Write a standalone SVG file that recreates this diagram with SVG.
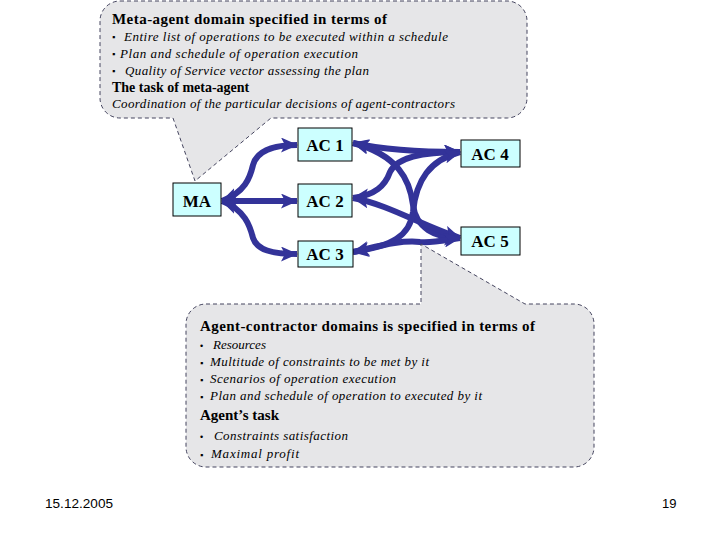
<svg xmlns="http://www.w3.org/2000/svg" width="720" height="540" viewBox="0 0 720 540">
<style>
.bub{fill:#e6e6e8;stroke:#45455f;stroke-width:1;stroke-dasharray:4 3}
.node{fill:#ccffff;stroke:#000;stroke-width:1}
.lbl{font-family:"Liberation Serif","Times New Roman",serif;font-size:17px;font-weight:bold;fill:#000;text-anchor:middle}
.h{font-family:"Liberation Serif","Times New Roman",serif;font-weight:bold;fill:#000}
.it{font-family:"Liberation Serif","Times New Roman",serif;font-style:italic;font-size:13px;fill:#000}
.bl{font-family:"Liberation Sans",Arial,sans-serif;font-size:9px;fill:#000}
.ft{font-family:"Liberation Sans",Arial,sans-serif;font-size:13px;fill:#000}
.c{fill:none;stroke:#333399;stroke-width:6;marker-start:url(#ah);marker-end:url(#ah)}
</style>
<defs>
<marker id="ah" markerUnits="userSpaceOnUse" markerWidth="17" markerHeight="15" viewBox="0 0 17 15" refX="16" refY="7.5" orient="auto-start-reverse">
<path d="M0,0 L17,7.5 L0,15 L4,7.5 Z" fill="#333399"/>
</marker>
</defs>
<rect width="720" height="540" fill="#fff"/>
<g id="connectors">
<path class="c" d="M222,201 C245,192 250,178 253,165 C257,151 272,145 297,145"/>
<path class="c" d="M222,201 L297,201"/>
<path class="c" d="M222,201 C245,210 250,226 253,238 C257,250 272,254 297,254"/>
<path class="c" d="M353,143 C385,150 425,152 460,152"/>
<path class="c" d="M353,143 C398,155 410,180 413,205 C416,228 435,238 460,238"/>
<path class="c" d="M353,198 C375,195 385,186 390,172 C398,155 430,152 460,152"/>
<path class="c" d="M353,198 C390,205 420,225 460,238"/>
<path class="c" d="M353,252 C392,246 410,236 413,212 C416,180 430,160 460,152"/>
<path class="c" d="M353,252 C380,246 400,240 420,242 C435,243 445,240 460,238"/>
</g>
<g id="callout-meta">
<path class="bub" d="M120,1 H507 A20,20 0 0 1 527,21 V98 A20,20 0 0 1 507,118 H271 L195,181 L173,118 H120 A20,20 0 0 1 100,98 V21 A20,20 0 0 1 120,1 Z"/>
<text class="h" x="112" y="24" font-size="15" textLength="275" lengthAdjust="spacing">Meta-agent domain specified in terms of</text>
<text class="bl" x="112" y="40">▪</text>
<text class="it" x="124" y="41" textLength="324" lengthAdjust="spacing">Entire list of operations  to be executed within a schedule</text>
<text class="bl" x="112" y="57">▪</text>
<text class="it" x="120" y="58" textLength="238" lengthAdjust="spacing">Plan and schedule of operation execution</text>
<text class="bl" x="112" y="74">▪</text>
<text class="it" x="125" y="75" textLength="244" lengthAdjust="spacing">Quality of Service vector assessing the plan</text>
<text class="h" x="112" y="92" font-size="14">The task of meta-agent</text>
<text class="it" x="112" y="108" textLength="343" lengthAdjust="spacing">Coordination of the particular decisions of agent-contractors</text>
</g>
<g id="callout-agent">
<path class="bub" d="M206,304 H421 V244 L525,304 H574 A20,20 0 0 1 594,324 V447 A20,20 0 0 1 574,467 H206 A20,20 0 0 1 186,447 V324 A20,20 0 0 1 206,304 Z"/>
<text class="h" x="200" y="331" font-size="15" textLength="335" lengthAdjust="spacing">Agent-contractor domains is specified in terms of</text>
<text class="bl" x="200" y="349">•</text>
<text class="it" x="213" y="349">Resources</text>
<text class="bl" x="200" y="366">▪</text>
<text class="it" x="210" y="366" textLength="219" lengthAdjust="spacing">Multitude of constraints to be met by it</text>
<text class="bl" x="200" y="383">▪</text>
<text class="it" x="210" y="383" textLength="186" lengthAdjust="spacing">Scenarios of operation execution</text>
<text class="bl" x="200" y="400">▪</text>
<text class="it" x="210" y="400" textLength="272" lengthAdjust="spacing">Plan and schedule of operation to executed by it</text>
<text class="h" x="200" y="420" font-size="15">Agent’s task</text>
<text class="bl" x="200" y="440" font-size="11">•</text>
<text class="it" x="214" y="440" textLength="134" lengthAdjust="spacing">Constraints satisfaction</text>
<text class="bl" x="200" y="458">▪</text>
<text class="it" x="211" y="458" textLength="88" lengthAdjust="spacing">Maximal  profit</text>
</g>
<g id="MA"><rect class="node" x="173" y="183" width="48" height="33"/><text class="lbl" x="197" y="207">MA</text></g>
<g id="AC1"><rect class="node" x="298" y="128" width="54" height="33"/><text class="lbl" x="325" y="151">AC 1</text></g>
<g id="AC2"><rect class="node" x="298" y="184" width="54" height="33"/><text class="lbl" x="325" y="207">AC 2</text></g>
<g id="AC3"><rect class="node" x="298" y="241" width="55" height="26"/><text class="lbl" x="325" y="260">AC 3</text></g>
<g id="AC4"><rect class="node" x="461" y="140" width="59" height="27"/><text class="lbl" x="490" y="160">AC 4</text></g>
<g id="AC5"><rect class="node" x="461" y="227" width="59" height="28"/><text class="lbl" x="490" y="247">AC 5</text></g>
<g id="footer">
<text class="ft" x="45" y="508" textLength="68" lengthAdjust="spacingAndGlyphs">15.12.2005</text>
<text class="ft" x="662" y="508">19</text>
</g>
</svg>
